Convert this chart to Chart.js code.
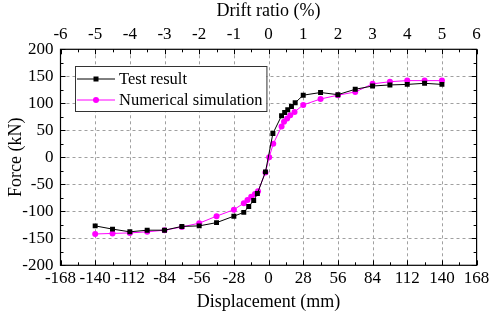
<!DOCTYPE html>
<html>
<head>
<meta charset="utf-8">
<script src="https://cdn.jsdelivr.net/npm/chart.js@4/dist/chart.umd.min.js"></script>
<style>
  html, body { margin: 0; padding: 0; background: #fff; overflow: hidden; }
  canvas { display: block; }
</style>
</head>
<body>
<canvas id="c" width="494" height="322"></canvas>
<script>
// Force–displacement skeleton curves
const displacementTest = [-140, -126, -112, -98, -84, -70, -56, -42, -28, -20, -16, -12, -9, -2.5,
  3.5, 10.5, 13, 15.5, 18.5, 21.5, 28, 42, 56, 70, 84, 98, 112, 126, 140];
const forceTest = [-127, -133, -138, -135, -135, -128, -127, -121, -109, -102, -91, -80, -67, -27,
  44, 77, 83, 88, 94, 101, 115, 120, 116, 126, 132, 134, 135, 137, 135];

const displacementSim = [-140, -126, -112, -98, -84, -70, -56, -42, -28, -20, -17, -14, -11, -8.5, -2.5,
  0.5, 3.8, 10.5, 12.5, 15, 17.5, 21, 28, 42, 56, 70, 84, 98, 112, 126, 140];
const forceSim = [-142, -141, -140, -138, -135, -129, -122, -109, -97, -85, -79, -73, -68, -63, -28,
  0, 25, 57, 66, 72, 78, 84, 97, 108, 115, 121, 136, 140, 142, 142, 142];

const seriesNames = ['Test result', 'Numerical simulation'];
const xTitle = 'Displacement (mm)';
const x2Title = 'Drift ratio (%)';
const yTitle = 'Force (kN)';

const FONT = "'Liberation Serif', 'Times New Roman', serif";
Chart.defaults.font.family = FONT;
Chart.defaults.color = '#000';

const toPoints = (xs, ys) => xs.map((x, i) => ({ x, y: ys[i] }));

// Dashed grid, inward tick marks, frame and boxed legend
const framePlugin = {
  id: 'frame',
  beforeDatasetsDraw(chart) {
    const { ctx, chartArea: a, scales } = chart;
    const xs = scales.x, ys = scales.y;
    ctx.save();
    ctx.strokeStyle = '#a0a0a0';
    ctx.lineWidth = 1;
    ctx.setLineDash([3, 3]);
    for (let v = -140; v <= 140; v += 28) {
      const px = Math.round(xs.getPixelForValue(v)) + 0.5;
      ctx.beginPath(); ctx.moveTo(px, a.top); ctx.lineTo(px, a.bottom); ctx.stroke();
    }
    for (let v = -150; v <= 150; v += 50) {
      const py = Math.round(ys.getPixelForValue(v)) + 0.5;
      ctx.beginPath(); ctx.moveTo(a.left, py); ctx.lineTo(a.right, py); ctx.stroke();
    }
    ctx.restore();
  },
  afterDraw(chart) {
    const { ctx, chartArea: a, scales } = chart;
    const xs = scales.x, ys = scales.y;
    ctx.save();
    ctx.strokeStyle = '#000';
    ctx.lineWidth = 1.2;
    ctx.setLineDash([]);
    ctx.strokeRect(a.left, a.top, a.right - a.left, a.bottom - a.top);
    ctx.lineWidth = 1;
    for (let v = -168; v <= 168; v += 14) {
      const len = (v % 28 === 0) ? 5 : 3;
      const px = Math.round(xs.getPixelForValue(v)) + 0.5;
      ctx.beginPath();
      ctx.moveTo(px, a.bottom); ctx.lineTo(px, a.bottom - len);
      ctx.moveTo(px, a.top); ctx.lineTo(px, a.top + len);
      ctx.stroke();
    }
    for (let v = -200; v <= 200; v += 25) {
      const len = (v % 50 === 0) ? 5 : 3;
      const py = Math.round(ys.getPixelForValue(v)) + 0.5;
      ctx.beginPath();
      ctx.moveTo(a.left, py); ctx.lineTo(a.left + len, py);
      ctx.moveTo(a.right, py); ctx.lineTo(a.right - len, py);
      ctx.stroke();
    }

    // legend
    const lx = 75, ly = 66, rowH = 21;
    ctx.font = '16.5px ' + FONT;
    const textX = lx + 44;
    const tw = Math.max(...seriesNames.map(s => ctx.measureText(s).width));
    const bw = textX + tw + 4 - lx, bh = 45;
    ctx.fillStyle = '#fff';
    ctx.fillRect(lx, ly, bw, bh);
    ctx.strokeStyle = '#333';
    ctx.lineWidth = 1;
    ctx.strokeRect(lx + 0.5, ly + 0.5, bw, bh);
    chart.data.datasets.forEach((ds, i) => {
      const cy = ly + 13 + i * rowH;
      ctx.strokeStyle = ds.borderColor;
      ctx.lineWidth = 1;
      ctx.beginPath(); ctx.moveTo(lx + 2, cy); ctx.lineTo(lx + 40, cy); ctx.stroke();
      ctx.fillStyle = ds.pointBackgroundColor;
      if (ds.pointStyle === 'rect') {
        ctx.fillRect(lx + 21 - 2.5, cy - 2.5, 5, 5);
      } else {
        ctx.beginPath(); ctx.arc(lx + 21, cy, 3, 0, Math.PI * 2); ctx.fill();
      }
      ctx.fillStyle = '#000';
      ctx.textBaseline = 'middle';
      ctx.textAlign = 'left';
      ctx.fillText(ds.label, textX, cy + 1);
    });
    ctx.restore();
  }
};

new Chart(document.getElementById('c'), {
  type: 'scatter',
  data: {
    datasets: [
      {
        label: seriesNames[0],
        data: toPoints(displacementTest, forceTest),
        showLine: true,
        borderColor: '#000',
        backgroundColor: '#000',
        pointBackgroundColor: '#000',
        pointBorderColor: '#000',
        borderWidth: 1,
        pointStyle: 'rect',
        pointRadius: 3.5,
        pointBorderWidth: 0,
        xAxisID: 'x', yAxisID: 'y'
      },
      {
        label: seriesNames[1],
        data: toPoints(displacementSim, forceSim),
        showLine: true,
        borderColor: '#ff00ff',
        backgroundColor: '#ff00ff',
        pointBackgroundColor: '#ff00ff',
        pointBorderColor: '#ff00ff',
        borderWidth: 1,
        pointStyle: 'circle',
        pointRadius: 3,
        pointBorderWidth: 0,
        xAxisID: 'x', yAxisID: 'y'
      }
    ]
  },
  options: {
    responsive: false,
    animation: false,
    devicePixelRatio: 1,
    layout: { padding: { left: 0, right: 17.4, top: 0, bottom: 0 } },
    plugins: { legend: { display: false }, tooltip: { enabled: false } },
    scales: {
      x: {
        type: 'linear', position: 'bottom',
        min: -168, max: 168,
        ticks: { stepSize: 28, padding: 3, font: { size: 17 }, color: '#000', maxRotation: 0, autoSkip: false },
        grid: { display: false, drawTicks: false },
        border: { display: false },
        title: { display: true, text: xTitle, font: { size: 18 }, color: '#000', padding: { top: 0, bottom: 9 } },
        afterFit: s => { s.height = 56.7; }
      },
      x2: {
        type: 'linear', position: 'top',
        min: -6, max: 6,
        ticks: { stepSize: 1, padding: 5, font: { size: 17 }, color: '#000', maxRotation: 0, autoSkip: false },
        grid: { display: false, drawTicks: false },
        border: { display: false },
        title: { display: true, text: x2Title, font: { size: 18 }, color: '#000', padding: { top: 0, bottom: 0 } },
        afterFit: s => { s.height = 49.3; }
      },
      y: {
        type: 'linear', position: 'left',
        min: -200, max: 200,
        ticks: { stepSize: 50, padding: 7, font: { size: 17 }, color: '#000' },
        grid: { display: false, drawTicks: false },
        border: { display: false },
        title: { display: true, text: yTitle, font: { size: 18 }, color: '#000', padding: { top: 5, bottom: 0 } },
        afterFit: s => { s.width = 60.5; }
      }
    }
  },
  plugins: [framePlugin]
});
</script>
</body>
</html>
